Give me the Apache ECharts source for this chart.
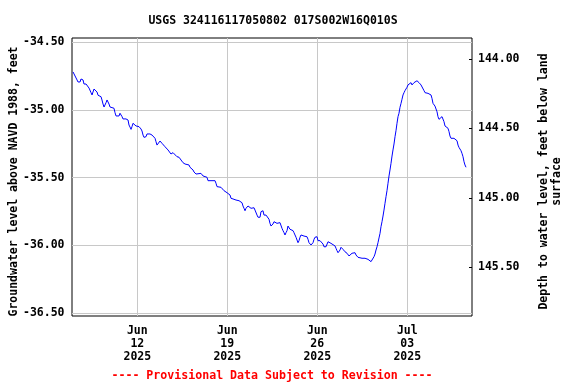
<!DOCTYPE html>
<html><head><meta charset="utf-8">
<script src="https://cdn.jsdelivr.net/npm/echarts@6/dist/echarts.min.js"></script>
<style>html,body{margin:0;padding:0;background:#fff}#c{width:576px;height:384px}</style>
</head><body><div id="c"></div>
<script>
const titleText = 'USGS 324116117050802 017S002W16Q010S';
const footerText = '---- Provisional Data Subject to Revision ----';
const leftAxisName = 'Groundwater level above NAVD 1988, feet';
const rightAxisName = 'Depth to water level, feet below land\nsurface';
const seriesStart = [2025, 5, 7];          // Jun 7 2025 00:00 (local)
const xTickDates = [[2025, 5, 12], [2025, 5, 19], [2025, 5, 26], [2025, 6, 3]];
const monthNames = ['Jan','Feb','Mar','Apr','May','Jun','Jul','Aug','Sep','Oct','Nov','Dec'];
const xRangeHours = [-1.9, 744.8];         // axis extent, hours from series start
const leftTicks = [-36.5, -36.0, -35.5, -35.0, -34.5];
const rightTicks = [144.0, 144.5, 145.0, 145.5];
// [hours since series start, water level ft above NAVD 1988]
const observations = [
[0,-34.719],[1.9,-34.712],[3.7,-34.729],[7.5,-34.778],[9.3,-34.793],[13.1,-34.793],[14.9,-34.771],[16.8,-34.761],[18.7,-34.778],[20.5,-34.808],
[24.3,-34.808],[28.0,-34.815],[29.9,-34.838],[33.6,-34.872],[35.5,-34.889],[37.3,-34.867],[39.2,-34.845],[41.1,-34.832],[42.9,-34.845],[44.8,-34.867],
[46.7,-34.891],[50.4,-34.897],[52.3,-34.902],[54.1,-34.926],[56.0,-34.956],[57.9,-34.978],[59.7,-34.965],[61.6,-34.946],[63.5,-34.926],[65.3,-34.934],
[67.2,-34.956],[69.1,-34.978],[72.8,-34.983],[76.5,-34.987],[78.4,-35.020],[80.3,-35.044],[82.1,-35.057],[84.0,-35.054],[85.9,-35.044],[87.7,-35.024],
[89.6,-35.032],[91.5,-35.049],[93.3,-35.066],[98.9,-35.066],[100.8,-35.074],[102.7,-35.074],[104.5,-35.111],[106.4,-35.126],[108.3,-35.143],[110.1,-35.123],
[112.0,-35.098],[115.7,-35.098],[117.6,-35.118],[121.3,-35.118],[123.2,-35.123],[125.1,-35.123],[126.9,-35.140],[128.8,-35.155],[130.7,-35.185],[132.5,-35.202],
[136.3,-35.197],[138.1,-35.177],[140.0,-35.172],[143.7,-35.177],[147.5,-35.185],[151.2,-35.185],[153.1,-35.209],[154.9,-35.234],[156.8,-35.259],[158.7,-35.259],
[160.5,-35.246],[162.4,-35.229],[164.3,-35.229],[166.1,-35.246],[168.0,-35.259],[171.7,-35.271],[173.6,-35.283],[177.3,-35.295],[179.2,-35.308],[182.9,-35.325],
[186.7,-35.315],[190.4,-35.325],[194.1,-35.345],[197.9,-35.349],[201.6,-35.357],[205.3,-35.389],[209.1,-35.399],[212.8,-35.399],[216.5,-35.406],[218.4,-35.423],
[220.3,-35.436],[224.0,-35.443],[225.9,-35.458],[229.6,-35.473],[231.5,-35.468],[238.9,-35.468],[242.7,-35.487],[246.4,-35.497],[250.1,-35.497],[252.0,-35.522],
[255.7,-35.530],[257.6,-35.522],[259.5,-35.532],[261.3,-35.522],[265.1,-35.522],[266.9,-35.541],[268.8,-35.566],[276.3,-35.571],[280.0,-35.578],[281.9,-35.596],
[285.6,-35.603],[287.5,-35.611],[291.2,-35.608],[293.1,-35.628],[294.9,-35.652],[296.8,-35.665],[298.7,-35.657],[302.4,-35.652],[304.3,-35.665],[308.0,-35.660],
[309.9,-35.670],[313.6,-35.677],[315.5,-35.685],[317.3,-35.709],[319.2,-35.726],[321.1,-35.744],[322.9,-35.726],[324.8,-35.714],[326.7,-35.709],[328.5,-35.704],
[330.4,-35.714],[332.3,-35.726],[334.1,-35.739],[336.0,-35.726],[337.9,-35.722],[339.7,-35.739],[341.6,-35.751],[343.5,-35.776],[345.3,-35.792],[349.1,-35.792],
[350.9,-35.751],[352.8,-35.739],[354.7,-35.744],[356.5,-35.776],[358.4,-35.788],[360.3,-35.776],[362.1,-35.776],[364.0,-35.788],[365.9,-35.807],[367.7,-35.837],
[369.6,-35.857],[371.5,-35.857],[373.3,-35.842],[375.2,-35.825],[377.1,-35.820],[378.9,-35.818],[380.8,-35.837],[382.7,-35.849],[384.5,-35.837],[386.4,-35.832],
[388.3,-35.842],[390.1,-35.874],[392.0,-35.891],[393.9,-35.906],[395.7,-35.923],[397.6,-35.906],[399.5,-35.891],[401.3,-35.857],[403.2,-35.866],[405.1,-35.881],
[408.8,-35.881],[410.7,-35.891],[412.5,-35.906],[414.4,-35.923],[416.3,-35.940],[418.1,-35.948],[420.0,-35.980],[421.9,-35.965],[423.7,-35.940],[425.6,-35.923],
[427.5,-35.911],[429.3,-35.916],[431.2,-35.931],[433.1,-35.940],[434.9,-35.940],[436.8,-35.936],[438.7,-35.955],[440.5,-35.980],[442.4,-35.990],[444.3,-35.997],
[446.1,-35.990],[448.0,-35.980],[449.9,-35.955],[451.7,-35.940],[453.6,-35.931],[455.5,-35.936],[457.3,-35.965],[461.1,-35.965],[462.9,-35.973],[464.8,-35.965],
[466.7,-35.990],[468.5,-36.010],[470.4,-36.021],[472.3,-36.010],[474.1,-35.997],[476.0,-35.973],[477.9,-35.980],[481.6,-35.985],[483.5,-35.990],[485.3,-35.997],
[489.1,-36.004],[490.9,-36.021],[492.8,-36.039],[494.7,-36.054],[496.5,-36.054],[498.4,-36.034],[500.3,-36.014],[502.1,-36.014],[504.0,-36.029],[505.9,-36.039],
[507.7,-36.047],[509.6,-36.054],[511.5,-36.058],[513.3,-36.071],[515.2,-36.078],[517.1,-36.071],[518.9,-36.071],[520.8,-36.058],[522.7,-36.054],[524.5,-36.047],
[526.4,-36.054],[528.3,-36.071],[530.1,-36.078],[532.0,-36.088],[535.7,-36.095],[539.5,-36.095],[541.3,-36.103],[543.2,-36.103],[545.1,-36.095],[546.9,-36.103],
[548.8,-36.095],[550.7,-36.103],[552.5,-36.103],[554.4,-36.113],[556.3,-36.120],[558.1,-36.128],[560.0,-36.108],[561.9,-36.083],[563.7,-36.064],[565.6,-36.034],
[567.5,-36.010],[569.3,-35.980],[571.2,-35.945],[573.1,-35.911],[574.9,-35.862],[576.8,-35.825],[578.7,-35.783],[580.5,-35.739],[582.4,-35.689],[584.3,-35.640],
[586.1,-35.596],[588.0,-35.541],[589.9,-35.487],[591.7,-35.443],[593.6,-35.394],[595.5,-35.340],[597.3,-35.295],[599.2,-35.251],[601.1,-35.197],[602.9,-35.153],
[604.8,-35.098],[606.7,-35.049],[608.5,-35.024],[610.4,-34.980],[612.3,-34.951],[614.1,-34.921],[616.0,-34.889],[617.9,-34.872],[619.7,-34.857],[621.6,-34.847],
[623.5,-34.832],[625.3,-34.815],[627.2,-34.803],[630.9,-34.798],[632.8,-34.815],[634.7,-34.808],[636.5,-34.798],[638.4,-34.788],[642.1,-34.784],[644.0,-34.791],
[645.9,-34.798],[647.7,-34.803],[649.6,-34.815],[651.5,-34.815],[653.3,-34.828],[655.2,-34.857],[657.1,-34.872],[658.9,-34.882],[660.8,-34.882],[662.7,-34.877],
[664.5,-34.889],[666.4,-34.877],[668.3,-34.889],[670.1,-34.914],[672.0,-34.951],[673.9,-34.963],[675.7,-34.971],[677.6,-34.980],[679.5,-35.013],[681.3,-35.049],
[683.2,-35.069],[685.1,-35.061],[686.9,-35.061],[688.8,-35.049],[690.7,-35.061],[692.5,-35.086],[694.4,-35.118],[696.3,-35.128],[698.1,-35.128],[700.0,-35.135],
[701.9,-35.160],[703.7,-35.192],[705.6,-35.209],[707.5,-35.216],[709.3,-35.216],[711.2,-35.209],[713.1,-35.197],[714.9,-35.209],[716.8,-35.227],[718.7,-35.259],
[720.5,-35.276],[722.4,-35.290],[724.3,-35.301],[726.1,-35.320],[728.0,-35.345],[729.9,-35.382],[731.7,-35.406],[733.6,-35.423]
];

const HOUR = 3600000;
const t0 = new Date(seriesStart[0], seriesStart[1], seriesStart[2]).getTime();
const xMin = t0 + xRangeHours[0] * HOUR;
const xMax = t0 + xRangeHours[1] * HOUR;
const xTicks = xTickDates.map(d => new Date(d[0], d[1], d[2]).getTime());
const lineData = observations.map(o => [t0 + o[0] * HOUR, o[1]]);
const FONT = 'DejaVu Sans Mono';
const txt = {fontFamily: FONT, fontWeight: 'bold', fontSize: 11.5, color: '#000'};
const pad2 = n => (n < 10 ? '0' : '') + n;
const L = 72, R = 104;
const hiddenAxisParts = {axisLine: {show: false}, axisTick: {show: false}, axisLabel: {show: false}, splitLine: {show: false}};

const chart = echarts.init(document.getElementById('c'), null, {renderer: 'canvas'});
chart.setOption({
  animation: false,
  backgroundColor: '#fff',
  title: [
    {text: titleText, left: 273, top: 15.5, textAlign: 'center', padding: 0,
     textStyle: Object.assign({}, txt)},
    {text: footerText, left: 272, top: 369.5, textAlign: 'center', padding: 0,
     textStyle: Object.assign({}, txt, {color: '#ff0000', fontSize: 11.6})}
  ],
  grid: [
    {left: L, right: R, top: 42.3, bottom: 70.9, show: false},
    {left: L, right: R, top: 38, bottom: 68, show: true, borderColor: '#000', borderWidth: 1, backgroundColor: 'transparent'},
    {left: L, right: R, top: 59, bottom: 116.7, show: false},
    {left: L, right: R, top: 45, bottom: 66, show: false}
  ],
  xAxis: [
    {type: 'value', gridIndex: 0, min: xMin, max: xMax, show: false},
    {type: 'value', gridIndex: 1, min: xMin, max: xMax,
     axisLine: {show: false},
     axisTick: {show: false, customValues: xTicks},
     splitLine: {show: true, lineStyle: {color: '#c8c8c8', width: 1}},
     axisLabel: Object.assign({}, txt, {customValues: xTicks, margin: 9, lineHeight: 13,
       formatter: v => { const d = new Date(v); return monthNames[d.getMonth()] + '\n' + pad2(d.getDate()) + '\n' + d.getFullYear(); }})},
    {type: 'value', gridIndex: 2, min: xMin, max: xMax, show: false},
    {type: 'value', gridIndex: 3, min: xMin, max: xMax, show: false}
  ],
  yAxis: [
    {type: 'value', gridIndex: 0, min: leftTicks[0], max: leftTicks[leftTicks.length - 1], interval: 0.5,
     axisLine: {show: false}, axisTick: {show: false},
     splitLine: {show: true, lineStyle: {color: '#c8c8c8', width: 1}},
     axisLabel: Object.assign({}, txt, {margin: 7.5, formatter: v => v.toFixed(2)})},
    {type: 'value', gridIndex: 1, show: false, min: 0, max: 1},
    {type: 'value', gridIndex: 2, position: 'right', inverse: true,
     min: rightTicks[0], max: rightTicks[rightTicks.length - 1], interval: 0.5,
     axisLine: {show: false},
     axisTick: {show: true, inside: true, length: 3, lineStyle: {color: '#000'}},
     splitLine: {show: false},
     axisLabel: Object.assign({}, txt, {margin: 6, formatter: v => v.toFixed(2)})},
    Object.assign({type: 'value', gridIndex: 3, position: 'left', min: 0, max: 1,
     name: leftAxisName, nameLocation: 'middle', nameRotate: 90, nameGap: 52,
     nameTextStyle: Object.assign({}, txt)}, hiddenAxisParts),
    Object.assign({type: 'value', gridIndex: 3, position: 'right', min: 0, max: 1,
     name: rightAxisName, nameLocation: 'middle', nameRotate: 90, nameGap: 66,
     nameTextStyle: Object.assign({}, txt, {lineHeight: 13})}, hiddenAxisParts)
  ],
  series: [{
    type: 'line', xAxisIndex: 0, yAxisIndex: 0, data: lineData,
    showSymbol: false, symbol: 'none', smooth: false,
    lineStyle: {color: '#0000ff', width: 1}, z: 5
  }]
});
</script></body></html>
